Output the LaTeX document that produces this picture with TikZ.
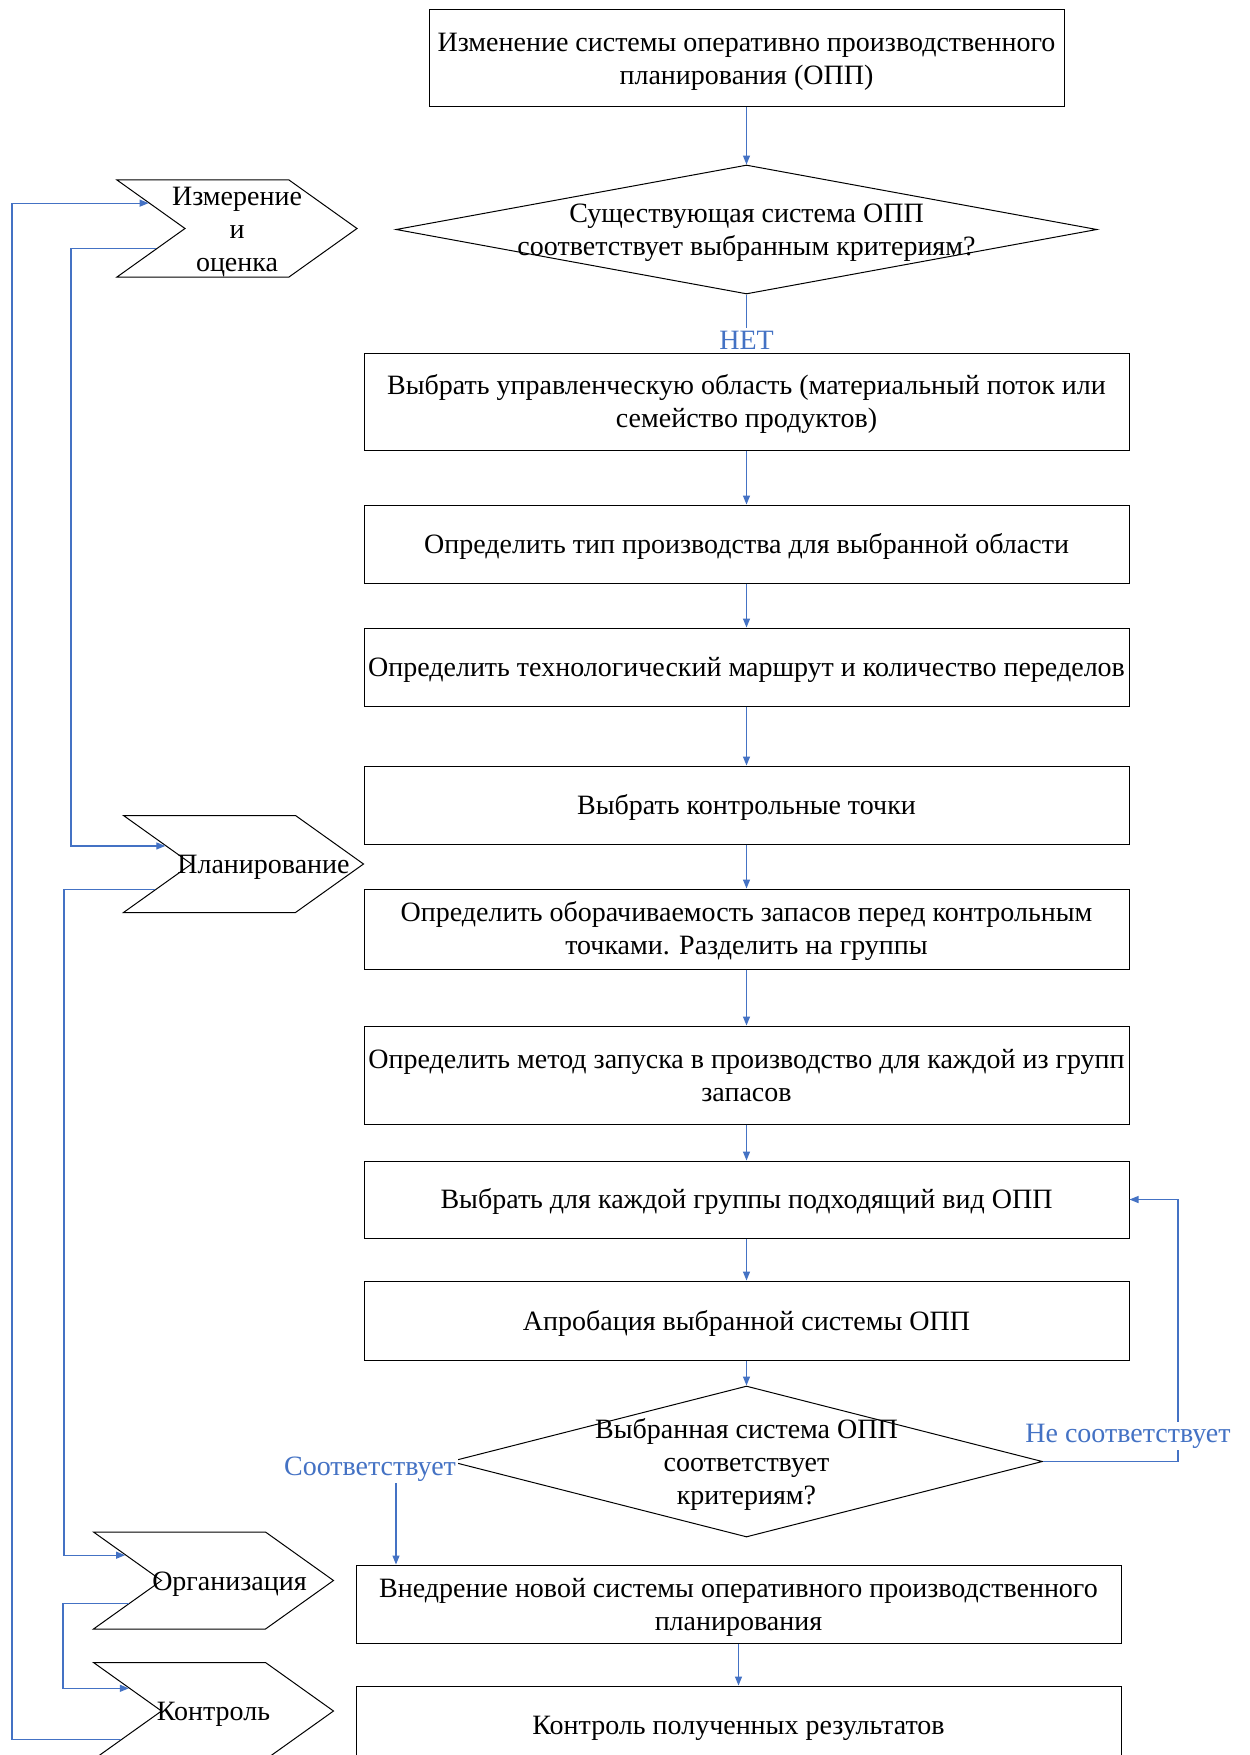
\documentclass[tikz,border=0pt]{standalone}
\usepackage{fontspec}
\setmainfont{Liberation Serif}
\usetikzlibrary{shapes.geometric,shapes.symbols,arrows.meta}
\definecolor{lineblue}{HTML}{4472C4}
\newcommand\wordstrut{\rule[-3pt]{0pt}{15.5pt}}

\begin{document}
\begin{tikzpicture}[x=0.5pt,y=-0.5pt,font=\fontsize{14}{16.5}\selectfont]
  \tikzset{box/.style={draw,line width=0.5pt,minimum width=382.5pt,minimum height=39pt,align=center,inner sep=2pt},
    ask/.style={draw,line width=0.5pt,diamond,inner sep=0pt},
    chev/.style={draw,line width=0.5pt,signal,signal from=west,signal to=east,signal pointer angle=71,minimum width=120pt,minimum height=48.5pt,inner sep=0pt},
    intext/.style={align=center,inner sep=0pt},
    arr/.style={draw=lineblue,line width=0.6pt,-{Triangle[length=4.5pt,width=3.5pt]}},
    lin/.style={draw=lineblue,line width=0.6pt},
    answer/.style={text=lineblue,fill=white,inner sep=1pt}}
  \useasboundingbox[fill=white] (0,0) rectangle (1249,1755);

  \node[box,minimum width=317.5pt,minimum height=48.5pt] (start) at (746.5,58.5) {\wordstrut Изменение системы оперативно производственного\\планирования (ОПП)\wordstrut};
  \node[ask,minimum width=350.5pt,minimum height=64.5pt,label={[intext]center:\wordstrut Существующая система ОПП\\соответствует выбранным критериям?\wordstrut}] (q1) at (746.5,229.5) {};

  \foreach \n/\y/\h/\t in {
      b3/401.5/48.5/{Выбрать управленческую область (материальный поток или\\семейство продуктов)},
      b4/544/39/{Определить тип производства для выбранной области},
      b5/667/39/{Определить технологический маршрут и количество переделов},
      b6/805/39/{Выбрать контрольные точки},
      b7/929/40/{Определить оборачиваемость запасов перед контрольным\\точками. Разделить на группы},
      b8/1075/49/{Определить метод запуска в производство для каждой из групп\\запасов},
      b9/1199.5/38.5/{Выбрать для каждой группы подходящий вид ОПП},
      b10/1320.5/39.5/{Апробация выбранной системы ОПП}}
    \node[box,minimum height=\h pt] (\n) at (746.5,\y) {\wordstrut\t\wordstrut};

  \node[ask,minimum width=296pt,minimum height=75.5pt,label={[intext]center:\wordstrut Выбранная система ОПП\\соответствует\\критериям?\wordstrut}] (q2) at (746.5,1461.5) {};
  \node[box] (b11) at (738.5,1604) {\wordstrut Внедрение новой системы оперативного производственного\\планирования\wordstrut};
  \node[box] (b12) at (738.5,1725) {\wordstrut Контроль полученных результатов\wordstrut};

  \node[chev,label={[intext]center:\wordstrut Измерение\\и\\оценка\wordstrut}] (izm) at (237,228.5) {};
  \node[chev,label={[intext,xshift=10pt]center:\wordstrut Планирование\wordstrut}] (plan) at (243.5,864) {};
  \node[chev,label={[intext,xshift=8pt]center:\wordstrut Организация\wordstrut}] (org) at (213.5,1580.5) {};
  \node[chev,label={[intext]center:\wordstrut Контроль\wordstrut}] (kon) at (213.5,1711) {};

  \foreach \a/\b in {start/q1,b3/b4,b4/b5,b5/b6,b6/b7,b7/b8,b8/b9,b9/b10,b10/q2,b11/b12}
    \draw[arr] (\a) -- (\b);

  \coordinate (lx0) at (12,0);
  \coordinate (lx1) at (71,0);
  \coordinate (lx2) at (64,0);
  \coordinate (lx3) at (63,0);
  \coordinate (lx4) at (396,0);
  \coordinate (rx) at (1178,0);

  \draw[arr] (kon.197) -- (kon.197 -| lx0) |- (izm.164);
  \draw[arr] (izm.194) -- (izm.194 -| lx1) |- (plan.167);
  \draw[arr] (plan.196) -- (plan.196 -| lx2) |- (org.164);
  \draw[arr] (org.195) -- (org.195 -| lx3) |- (kon.165);

  \node[answer] (no1) at (746.5,340) {НЕТ};
  \draw[lin] (q1) -- (no1);
  \draw[arr] (q2.west) -| (b11.north -| lx4);
  \node[answer] (yes) at (370,1469) {Соответствует};
  \draw[arr] (q2.east) -| (b9.east -| rx) -- (b9.east);
  \node[answer] (notok) at (1128,1436) {Не соответствует};
\end{tikzpicture}
\end{document}
